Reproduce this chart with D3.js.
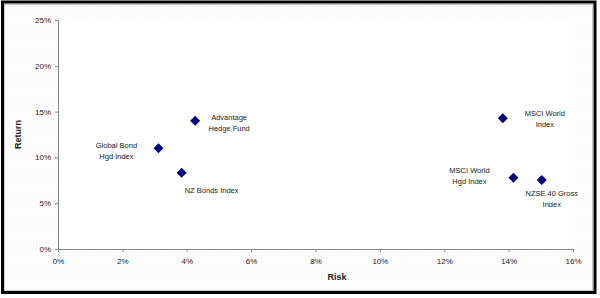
<!DOCTYPE html>
<html>
<head>
<meta charset="utf-8">
<script src="https://cdn.jsdelivr.net/npm/d3@7"></script>
<style>
  body { margin: 0; background: #fff; }
  svg text { font-family: Arial, "Liberation Sans", sans-serif; fill: #222; }
</style>
</head>
<body>
<svg id="chart" width="600" height="298"></svg>
<script>
// risk / return points
const names = ["Advantage Hedge Fund", "Global Bond Hgd Index", "NZ Bonds Index",
  "MSCI World Index", "MSCI World Hgd Index", "NZSE 40 Gross Index"];
const risk = [4.26, 3.12, 3.84, 13.82, 14.15, 15.03];
const ret = [14.0, 11.0, 8.33, 14.27, 7.78, 7.53];
const labelLines = [["Advantage", "Hedge Fund"], ["Global Bond", "Hgd Index"], ["NZ Bonds Index"],
  ["MSCI World", "Index"], ["MSCI World", "Hgd Index"], ["NZSE 40 Gross", "Index"]];
const xTicks = [0, 2, 4, 6, 8, 10, 12, 14, 16];
const yTicks = [0, 5, 10, 15, 20, 25];

const svg = d3.select("#chart");
const margin = { left: 58, right: 27, top: 20, bottom: 49 };
const width = 600, height = 298;

// dithered background
const defs = svg.append("defs");
const pat = defs.append("pattern").attr("id", "dots")
  .attr("width", 3).attr("height", 3).attr("patternUnits", "userSpaceOnUse");
pat.append("rect").attr("width", 3).attr("height", 3).attr("fill", "#fff");
pat.append("rect").attr("width", 1).attr("height", 1).attr("fill", "#ececec");

svg.append("rect").attr("x", 3).attr("y", 3).attr("width", 591).attr("height", 289)
  .attr("fill", "url(#dots)");

const x = d3.scaleLinear().domain([0, 16]).range([margin.left, width - margin.right]);
const y = d3.scaleLinear().domain([0, 25]).range([height - margin.bottom, margin.top]);

svg.append("rect")
  .attr("x", x(0)).attr("y", y(25))
  .attr("width", x(16) - x(0)).attr("height", y(0) - y(25))
  .attr("fill", "#fff");

// frame
svg.append("rect").attr("x", 2.5).attr("y", 2).attr("width", 592.5).attr("height", 290.5)
  .attr("fill", "none").attr("stroke", "#000").attr("stroke-width", 3);
svg.append("rect").attr("x", 4.5).attr("y", 4.5).attr("width", 588).attr("height", 286)
  .attr("fill", "none").attr("stroke", "#c8c8c8").attr("stroke-width", 1);

const xAxis = svg.append("g")
  .attr("transform", `translate(0,${y(0)})`)
  .call(d3.axisBottom(x).tickValues(xTicks).tickSize(3).tickPadding(6)
    .tickFormat(d => d + "%"));
const yAxis = svg.append("g")
  .attr("transform", `translate(${x(0)},0)`)
  .call(d3.axisLeft(y).tickValues(yTicks).tickSize(3).tickPadding(4)
    .tickFormat(d => d + "%"));

[xAxis, yAxis].forEach(a => {
  a.select(".domain").attr("stroke", "#888");
  a.selectAll(".tick line").attr("stroke", "#888");
  a.selectAll(".tick text").attr("font-size", 8).attr("fill", "#444")
    .attr("font-family", "Arial, 'Liberation Sans', sans-serif");
});

svg.append("text").attr("x", 337).attr("y", 280).attr("text-anchor", "middle")
  .attr("font-size", 9).attr("font-weight", "bold").text("Risk");
svg.append("text").attr("transform", `translate(21,${(y(0) + y(25)) / 2}) rotate(-90)`)
  .attr("text-anchor", "middle").attr("font-size", 9).attr("font-weight", "bold").text("Return");

// points: squares turned 45deg
const pts = names.map((n, i) => ({ name: n, risk: risk[i], ret: ret[i], lines: labelLines[i] }));
svg.append("g").selectAll("path").data(pts).enter().append("path")
  .attr("d", d3.symbol().type(d3.symbolSquare).size(50))
  .attr("transform", d => `translate(${x(d.risk)},${y(d.ret)}) rotate(45)`)
  .attr("fill", "#000080");

// label offsets relative to the point
const offs = [[34, -1], [-42, 0], [30, 20], [42, -2], [-44, -5], [10, 16]];
const lab = svg.append("g").selectAll("text").data(pts).enter().append("text")
  .attr("text-anchor", "middle").attr("font-size", 7.5).attr("fill", "#333")
  .attr("x", (d, i) => x(d.risk) + offs[i][0])
  .attr("y", (d, i) => y(d.ret) + offs[i][1]);
lab.selectAll("tspan").data(d => d.lines).enter().append("tspan")
  .attr("x", function() { return this.parentNode.getAttribute("x"); })
  .attr("dy", (d, j) => j === 0 ? 0 : 11)
  .text(d => d);
</script>
</body>
</html>
